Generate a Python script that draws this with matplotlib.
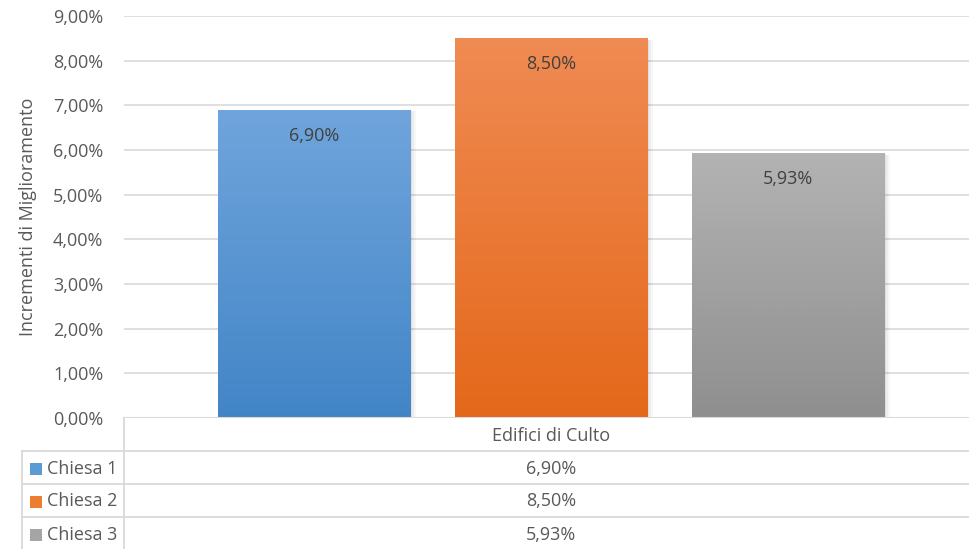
import numpy as np
import matplotlib
matplotlib.use("Agg")
import matplotlib.pyplot as plt
from matplotlib.colors import LinearSegmentedColormap
from matplotlib.patches import Rectangle
from matplotlib.lines import Line2D

plt.rcParams['font.family'] = ['Open Sans', 'DejaVu Sans']

category = "Edifici di Culto"
series = ["Chiesa 1", "Chiesa 2", "Chiesa 3"]
values = [6.90, 8.50, 5.93]
y_ticks = [0, 1, 2, 3, 4, 5, 6, 7, 8, 9]
y_label = "Incrementi di Miglioramento"

# gradient (top, bottom) per series
grad_colors = [("#70A5DC", "#4285C7"), ("#F08B53", "#E4681A"), ("#B3B3B3", "#8F8F8F")]
legend_colors = ["#5B9BD5", "#ED7D31", "#A5A5A5"]
text_color = "#595959"
grid_color = "#D9D9D9"
FS = 13


def pct(v):
    return f"{v:.2f}".replace(".", ",") + "%"


W, H = 970, 549
fig = plt.figure(figsize=(W / 100, H / 100), dpi=100)
ax = fig.add_axes([124 / W, 1 - 418 / H, 1 - 124 / W, (418 - 16) / H])

xs = np.array([-1, 0, 1])
width = 0.814
ax.set_xlim(-1.802, 1.768)
ax.set_ylim(0, 9)

for x, v, (ctop, cbot) in zip(xs, values, grad_colors):
    # soft shadow
    for k, a in enumerate([0.05, 0.04, 0.03]):
        d = 0.006 * (k + 1)
        ax.add_patch(Rectangle((x - width / 2 + d * 0.3, -0.02 - d), width + d, v, facecolor="black",
                               alpha=a, edgecolor="none", zorder=2))
    rect = Rectangle((x - width / 2, 0), width, v, facecolor="none", edgecolor="none", zorder=3)
    ax.add_patch(rect)
    cmap = LinearSegmentedColormap.from_list("g", [cbot, ctop])
    grad = np.linspace(0, 1, 256).reshape(-1, 1)
    im = ax.imshow(grad, cmap=cmap, aspect="auto", origin="lower",
                   extent=(x - width / 2, x + width / 2, 0, v), zorder=3, interpolation="bilinear")
    im.set_clip_path(rect)
    ax.annotate(pct(v), (x, v), xytext=(0, -26), textcoords="offset pixels",
                ha="center", va="center", fontsize=FS, color="#404040", zorder=4)

ax.set_yticks(y_ticks)
ax.set_yticklabels([pct(t) for t in y_ticks], fontsize=FS, color=text_color)
ax.tick_params(axis="y", length=0, pad=15)
ax.set_xticks([])
ax.yaxis.grid(True, color=grid_color, linewidth=1.2)
ax.set_axisbelow(True)
for s in ax.spines.values():
    s.set_visible(False)
ax.axhline(0, color=grid_color, linewidth=2.2, zorder=5)

fig.text(28 / W, 1 - 217 / H, y_label, rotation=90, ha="center", va="center",
         fontsize=FS, color=text_color)

# data table below the plot
line_kw = dict(color=grid_color, linewidth=1.3, transform=fig.transFigure, clip_on=False)
for yp in [451, 484, 517]:
    fig.add_artist(Line2D([22 / W, 1], [1 - yp / H] * 2, **line_kw))
fig.add_artist(Line2D([124 / W] * 2, [1 - 418 / H, 0], **line_kw))
fig.add_artist(Line2D([22 / W] * 2, [1 - 451 / H, 0], **line_kw))

cx = ax.transData.transform((0, 0))[0]
cx_fig = fig.transFigure.inverted().transform((cx, 0))[0]
fig.text(cx_fig, 1 - 436 / H, category, ha="center", va="center", fontsize=FS, color=text_color)
for i, (name, v, c) in enumerate(zip(series, values, legend_colors)):
    yc = 1 - (468.5 + 33 * i) / H
    fig.add_artist(Rectangle((30 / W, yc - 6 / H), 12 / W, 12 / H, facecolor=c, edgecolor="none",
                             transform=fig.transFigure))
    fig.text(47 / W, yc, name, ha="left", va="center", fontsize=FS, color=text_color)
    fig.text(cx_fig, yc, pct(v), ha="center", va="center", fontsize=FS, color=text_color)

fig.savefig("out.png", dpi=100, facecolor="white")
